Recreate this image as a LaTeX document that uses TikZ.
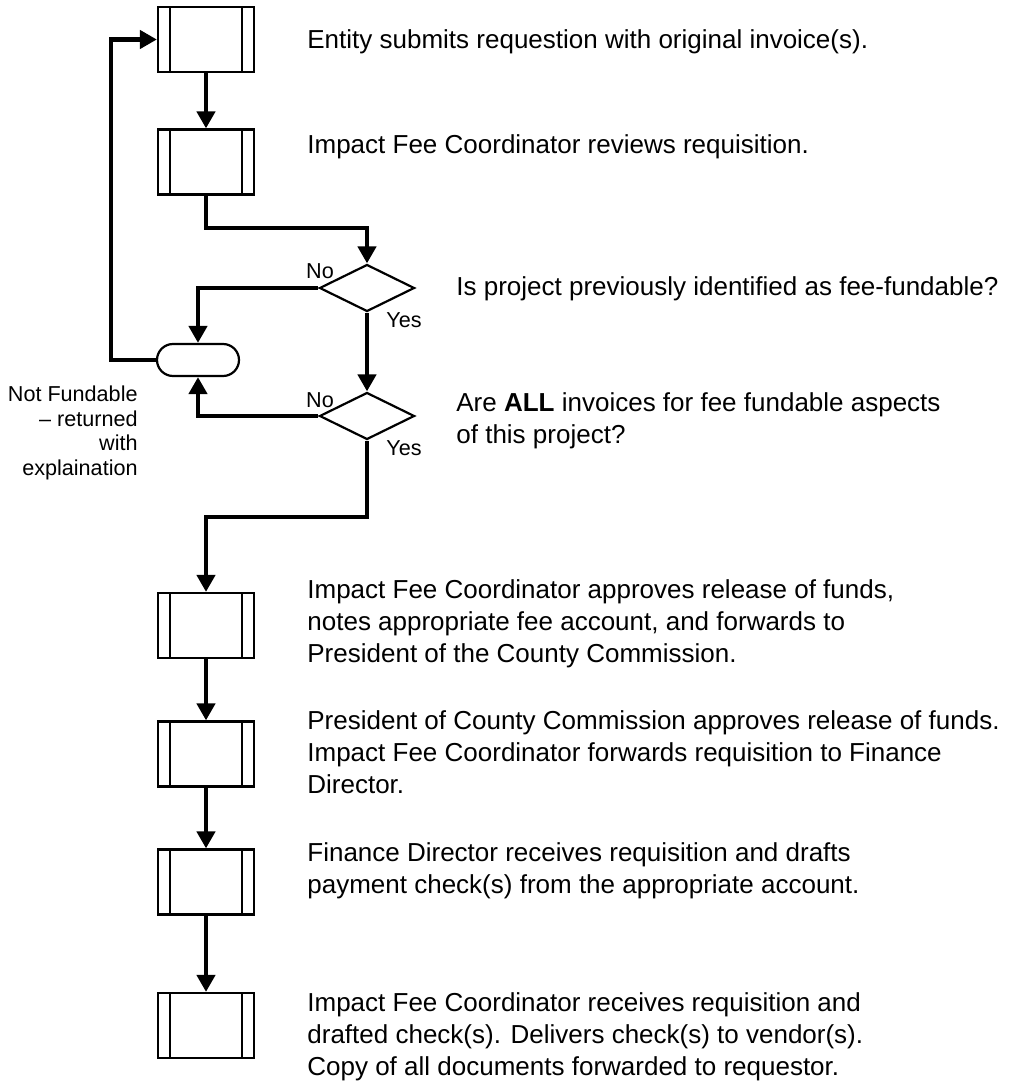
\documentclass[tikz,border=0pt]{standalone}
\usepackage{fontspec}
\setmainfont{Liberation Sans}
\usetikzlibrary{shapes.geometric,shapes.misc,arrows.meta}

\begin{document}
\begin{tikzpicture}[x=0.5pt,y=-0.5pt,
		process/.style={draw,line width=1.1pt,minimum width=48pt,minimum height=32.5pt,inner sep=0pt,
			path picture={\draw[line width=1.1pt] ([xshift=6pt]path picture bounding box.north west) -- ([xshift=6pt]path picture bounding box.south west);
				\draw[line width=1.1pt] ([xshift=-6pt]path picture bounding box.north east) -- ([xshift=-6pt]path picture bounding box.south east);}},
		decision/.style={diamond,draw,line width=1.1pt,minimum width=47.5pt,minimum height=23.5pt,inner sep=0pt},
		terminal/.style={rounded rectangle,draw,line width=1.1pt,minimum width=41pt,minimum height=16pt,inner sep=0pt},
		flow/.style={line width=2.2pt,-{Triangle[width=9pt,length=8.5pt]}},
		step text/.style={anchor=west,align=left,inner sep=0pt,font=\fontsize{13pt}{16pt}\selectfont},
		answer/.style={inner sep=0pt,font=\fontsize{10.8pt}{12.2pt}\selectfont}]
	\useasboundingbox (0,0) rectangle (1012,1091);
	% shapes
	\node[process] (p1) at (206,39.5) {};
	\node[process] (p2) at (206,162) {};
	\node[decision] (d1) at (367,288) {};
	\node[terminal] (back) at (198,360) {};
	\node[decision] (d2) at (367,416) {};
	\node[process] (p3) at (206,625.5) {};
	\node[process] (p4) at (206,754) {};
	\node[process] (p5) at (206,882) {};
	\node[process] (p6) at (206,1025.5) {};
	\coordinate (b1) at (206,228);
	\coordinate (b2) at (367,517);
	\coordinate (lx) at (111,0);
	% connectors
	\draw[flow] (p1) -- (p2);
	\draw[flow] (p2.south) -- (b1) -| (d1.north);
	\draw[flow] (d1.west) -| (back.north);
	\draw[flow] (d2.west) -| (back.south);
	\draw[flow] (back.west) -- (back.west -| lx) |- (p1.west);
	\draw[flow] (d1.south) -- (d2.north);
	\draw[flow] (d2.south) -- (b2) -| (p3.north);
	\draw[flow] (p3) -- (p4);
	\draw[flow] (p4) -- (p5);
	\draw[flow] (p5) -- (p6);
	% answers
	\node[answer] (n1) at (320,271) {No};
	\node[answer] (y1) at (404,320) {Yes};
	\node[answer] (n2) at (320,400) {No};
	\node[answer] (y2) at (404,448) {Yes};
	\node[answer,anchor=east,align=right] (nf) at (138,433) {Not Fundable\\– returned\\with\\explaination};
	% texts
	\node[step text] (t1) at (307,42) {Entity submits requestion with original invoice(s).};
	\node[step text] (t2) at (307,147) {Impact Fee Coordinator reviews requisition.};
	\node[step text] (t3) at (456,289) {Is project previously identified as fee-fundable?};
	\node[step text] (t4) at (456,421) {Are \textbf{ALL} invoices for fee fundable aspects\\of this project?};
	\node[step text] (t5) at (307,624) {Impact Fee Coordinator approves release of funds,\\notes appropriate fee account, and forwards to\\President of the County Commission.};
	\node[step text] (t6) at (307,752) {President of County Commission approves release of funds.\\Impact Fee Coordinator forwards requisition to Finance\\Director.};
	\node[step text] (t7) at (307,871) {Finance Director receives requisition and drafts\\payment check(s) from the appropriate account.};
	\node[step text] (t8) at (307,1037) {Impact Fee Coordinator receives requisition and\\drafted check(s). Delivers check(s) to vendor(s).\\Copy of all documents forwarded to requestor.};
\end{tikzpicture}
\end{document}
